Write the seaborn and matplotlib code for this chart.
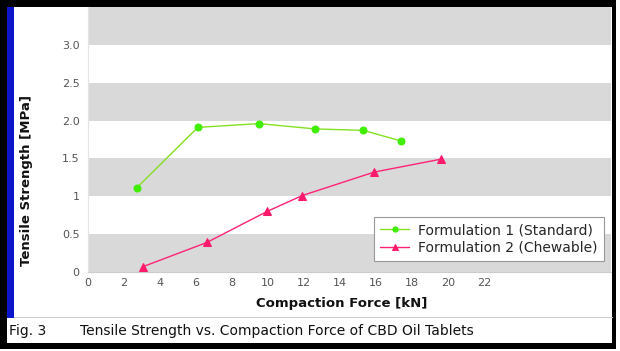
import matplotlib
matplotlib.use("Agg")
import matplotlib.pyplot as plt
from matplotlib.patches import Rectangle
from matplotlib.lines import Line2D
import numpy as np
import pandas as pd
import seaborn as sns

# data
force_f1 = [2.7, 6.1, 9.5, 12.6, 15.3, 17.4]
strength_f1 = [1.11, 1.91, 1.96, 1.89, 1.87, 1.73]
force_f2 = [3.05, 6.6, 9.95, 11.9, 15.9, 19.6]
strength_f2 = [0.07, 0.39, 0.80, 1.01, 1.32, 1.49]
label_f1 = "Formulation 1 (Standard)"
label_f2 = "Formulation 2 (Chewable)"
y_ticks = [0, 0.5, 1, 1.5, 2, 2.5, 3]
y_ticklabels = ["0", "0.5", "1", "1.5", "2.0", "2.5", "3.0"]
x_ticks = list(range(0, 24, 2))

df1 = pd.DataFrame({"force": force_f1, "strength": strength_f1})
df2 = pd.DataFrame({"force": force_f2, "strength": strength_f2})

sns.set_style("white")
plt.rcParams['font.family'] = ['DejaVu Sans']

W, H = 620, 351
fig = plt.figure(figsize=(6.2, 3.51), dpi=100)

# frame: black border, white inside, blue bar on the left
fig.add_artist(Rectangle((0, 2 / H), 616 / W, 349 / H, transform=fig.transFigure,
                         facecolor="black", edgecolor="none", zorder=0))
fig.add_artist(Rectangle((7 / W, 8 / H), 605 / W, 336 / H, transform=fig.transFigure,
                         facecolor="white", edgecolor="none", zorder=0))
fig.add_artist(Rectangle((7 / W, 1 - 318 / H), 7 / W, 311 / H, transform=fig.transFigure,
                         facecolor="#0a14c8", edgecolor="none", zorder=1))

ax = fig.add_axes([88 / W, 1 - 272 / H, 523 / W, 265 / H])
ax.set_facecolor("white")
for lo in [0, 1, 2, 3]:
    ax.axhspan(lo, lo + 0.5, color="#d9d9d9", lw=0, zorder=0)

sns.lineplot(data=df1, x="force", y="strength", ax=ax, color="#84e024", lw=1.0,
             marker="o", markersize=5, markerfacecolor="#3fee00",
             markeredgecolor="#3fee00", label=label_f1, zorder=3)
sns.lineplot(data=df2, x="force", y="strength", ax=ax, color="#ff2277", lw=1.0,
             marker="^", markersize=5.5, markerfacecolor="#ff1a6e",
             markeredgecolor="#ff1a6e", label=label_f2, zorder=3)

ax.set_xlim(0, 29.05)
ax.set_ylim(0, 3.5)
ax.set_xticks(x_ticks)
ax.set_yticks(y_ticks)
ax.set_yticklabels(y_ticklabels)
ax.tick_params(length=0, labelsize=8, labelcolor="#555555", pad=4)
ax.tick_params(axis="y", pad=6)
for s in ["top", "right"]:
    ax.spines[s].set_visible(False)
ax.spines["left"].set_color("#e4e4e4")
ax.spines["bottom"].set_color("#cccccc")
ax.set_xlabel("")
ax.set_ylabel("")

fig.text(342 / W, 1 - 303 / H, "Compaction Force [kN]", ha="center", va="center",
         fontsize=9.5, fontweight="bold", color="#111111")
fig.text(27 / W, 1 - 180 / H, "Tensile Strength [MPa]", ha="center", va="center",
         rotation=90, fontsize=9.5, fontweight="bold", color="#111111")

leg = ax.legend(loc="upper left", bbox_to_anchor=((374 - 88) / 523, (272 - 217) / 265),
                frameon=True, fontsize=10, handlelength=2.1, handletextpad=0.6,
                borderpad=0.45, labelspacing=0.25, fancybox=False, borderaxespad=0,
                markerscale=0.75, framealpha=1)
leg.get_frame().set_edgecolor("#999999")
leg.get_frame().set_linewidth(0.8)

# caption separator and caption
fig.add_artist(Line2D([14 / W, 612 / W], [1 - 317 / H] * 2, transform=fig.transFigure,
                      color="#cccccc", lw=0.8))
fig.text(9 / W, 1 - 331 / H, "Fig. 3", ha="left", va="center", fontsize=10, color="#111111")
fig.text(80 / W, 1 - 331 / H, "Tensile Strength vs. Compaction Force of CBD Oil Tablets",
         ha="left", va="center", fontsize=10, color="#111111")

fig.savefig("out.png", dpi=100)
